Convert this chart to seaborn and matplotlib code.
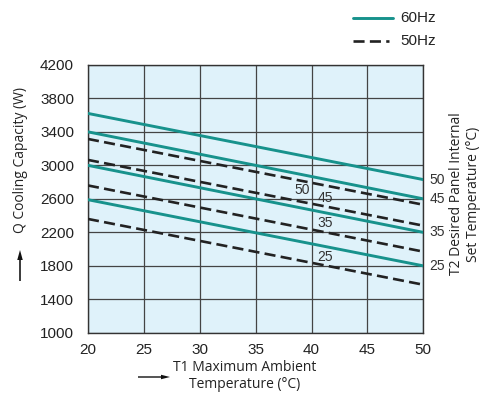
import matplotlib.pyplot as plt
import matplotlib.patches as mpatches
import seaborn as sns
import numpy as np
import pandas as pd

# data: capacity at T1 = 20 and T1 = 50 (straight lines)
t1 = [20, 50]
set_temps = [50, 45, 35, 25]
q_60hz = {50: [3620, 2830], 45: [3400, 2600], 35: [3000, 2200], 25: [2590, 1800]}
q_50hz = {50: [3315, 2530], 45: [3065, 2280], 35: [2760, 1970], 25: [2360, 1575]}

rows = []
for t2 in set_temps:
    for x, q in zip(t1, q_60hz[t2]):
        rows.append({'T1': x, 'Q': q, 'T2': t2, 'Freq': '60Hz'})
    for x, q in zip(t1, q_50hz[t2]):
        rows.append({'T1': x, 'Q': q, 'T2': t2, 'Freq': '50Hz'})
df = pd.DataFrame(rows)
df['series'] = df['Freq'] + '_' + df['T2'].astype(str)

teal = '#17928c'
dash = (0, (4.2, 2.0))
sns.set_style('white')
plt.rcParams['font.family'] = ['Liberation Sans', 'DejaVu Sans']

fig = plt.figure(figsize=(4.86, 3.93), dpi=100)
ax = fig.add_axes([0.181, 0.153, 0.690, 0.682])
ax.set_facecolor('#dff2fa')

for freq, color, ls, lw in [('50Hz', '#222222', dash, 1.9), ('60Hz', teal, '-', 2.1)]:
    sub = df[df['Freq'] == freq]
    sns.lineplot(data=sub, x='T1', y='Q', units='series', estimator=None,
                 color=color, linewidth=lw, linestyle=ls, ax=ax, legend=False, zorder=3)

ax.set_xlim(20, 50)
ax.set_ylim(1000, 4200)
ax.set_xticks(np.arange(20, 51, 5))
ax.set_yticks(np.arange(1000, 4201, 400))
ax.grid(True, color='#444444', linewidth=0.9)
ax.set_axisbelow(True)
for s in ax.spines.values():
    s.set_color('#333333')
    s.set_linewidth(1.0)
ax.tick_params(axis='both', length=0, labelsize=11, colors='#222222')
ax.tick_params(axis='x', pad=7)
ax.tick_params(axis='y', pad=10)
for t in ax.get_xticklabels() + ax.get_yticklabels():
    t.set_fontfamily('Liberation Sans')
ax.set_xlabel('')
ax.set_ylabel('')

# in-plot labels for the 50Hz lines
for txt, x, y in [('50', 39.2, 2700), ('45', 41.2, 2612), ('35', 41.2, 2317), ('25', 41.2, 1911)]:
    ax.text(x, y, txt, fontsize=10, color='#333333', ha='center', va='center', zorder=4)

# right-side labels for the 60Hz lines
for txt, q in [('50', 2830), ('45', 2600), ('35', 2200), ('25', 1800)]:
    ax.text(50.55, q, txt, fontsize=10, color='#333333', ha='left', va='center')

lab = ['Open Sans', 'DejaVu Sans']
fig.text(20 / 486, 1 - 160 / 393, 'Q Cooling Capacity (W)', rotation=90, ha='center', va='center',
         fontsize=10, family=lab, color='#222222')
fig.text(465 / 486, 1 - 194 / 393, 'T2 Desired Panel Internal\nSet Temperature (°C)', rotation=90,
         ha='center', va='center', fontsize=10, family=lab, color='#222222', linespacing=1.1)
fig.text(245 / 486, 1 - 376 / 393, 'T1 Maximum Ambient\nTemperature (°C)', ha='center', va='center',
         fontsize=10, family=lab, color='#222222', linespacing=1.15)

# arrows next to axis titles
fig.patches.append(mpatches.FancyArrow(
    20 / 486, 1 - 281 / 393, 0, 31 / 393, width=1.6 / 486, head_width=5.5 / 486, head_length=10 / 393,
    transform=fig.transFigure, color='#111111', linewidth=0, length_includes_head=True))
fig.patches.append(mpatches.FancyArrow(
    138 / 486, 1 - 377 / 393, 32 / 486, 0, width=1.4 / 393, head_width=4.5 / 393, head_length=9 / 486,
    transform=fig.transFigure, color='#111111', linewidth=0, length_includes_head=True))

# legend at top right
fig.lines.append(plt.Line2D([353 / 486, 393 / 486], [1 - 18 / 393] * 2, color=teal, linewidth=2.1,
                            transform=fig.transFigure))
fig.lines.append(plt.Line2D([353 / 486, 389 / 486], [1 - 41 / 393] * 2, color='#222222', linewidth=1.9,
                            linestyle=dash, transform=fig.transFigure))
fig.text(400 / 486, 1 - 18 / 393, '60Hz', fontsize=11, va='center', color='#222222')
fig.text(400 / 486, 1 - 41 / 393, '50Hz', fontsize=11, va='center', color='#222222')

fig.savefig('out.png', dpi=100)
